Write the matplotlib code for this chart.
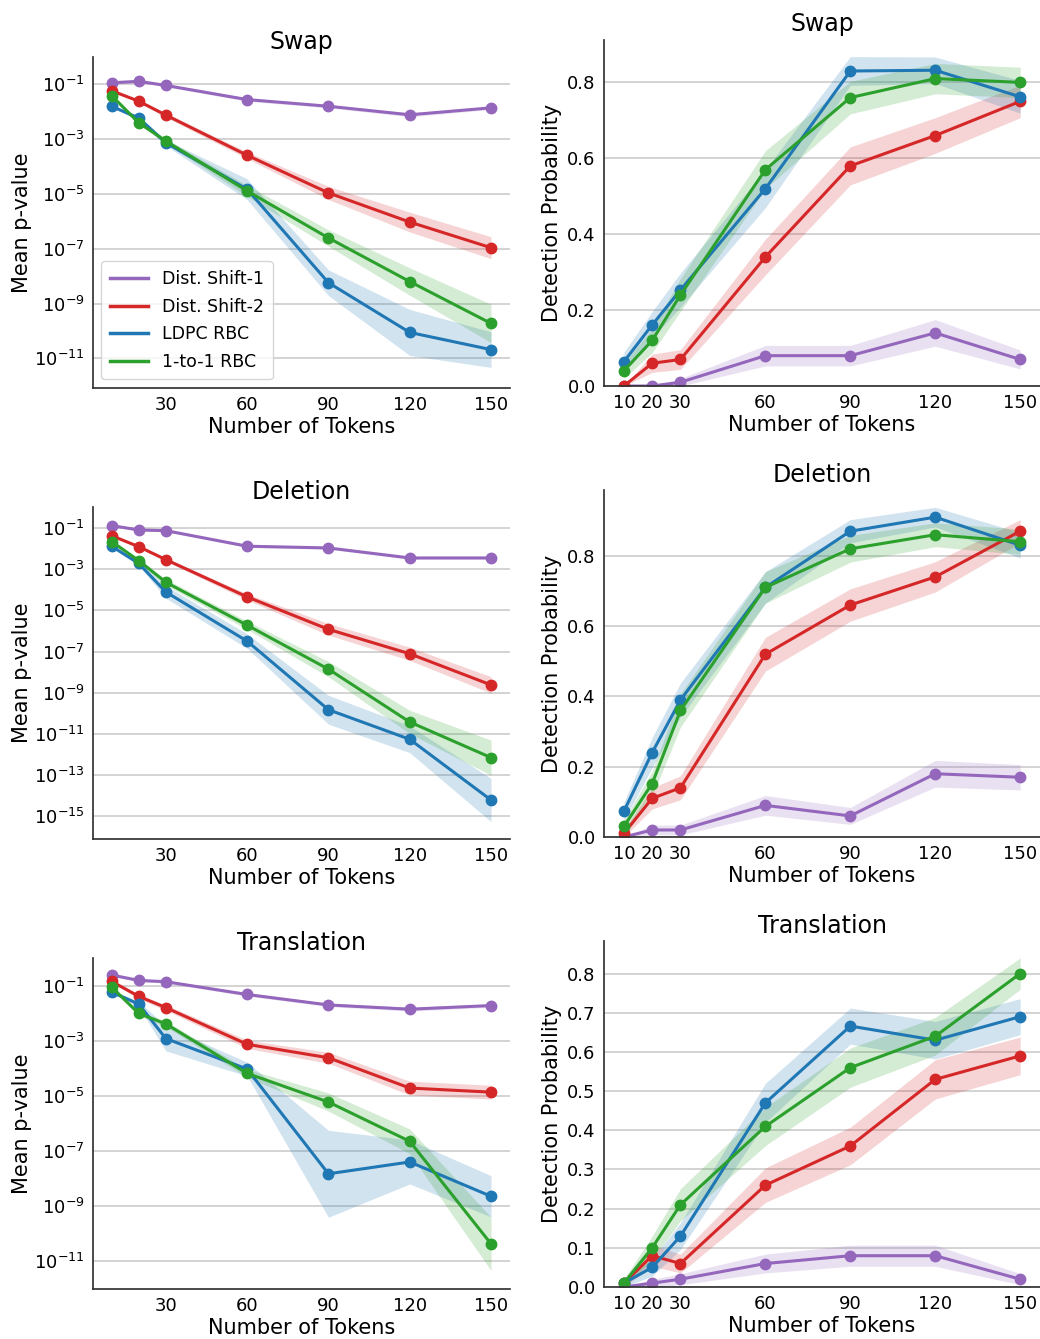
import matplotlib
matplotlib.use("Agg")
import matplotlib.pyplot as plt
import numpy as np
from matplotlib.lines import Line2D
from matplotlib.ticker import NullLocator

tokens = [10, 20, 30, 60, 90, 120, 150]
methods = ["Dist. Shift-1", "Dist. Shift-2", "LDPC RBC", "1-to-1 RBC"]
colors = ["#9467bd", "#d62728", "#1f77b4", "#2ca02c"]

# mean p-value per method, and band half-width in decades
swap_pval = {
    "Dist. Shift-1": [0.115, 0.13, 0.092, 0.028, 0.016, 0.0078, 0.014],
    "Dist. Shift-2": [0.059, 0.0245, 0.0076, 2.6e-4, 1.1e-5, 9.5e-7, 1.1e-7],
    "LDPC RBC": [0.016, 0.0059, 7.4e-4, 1.5e-5, 5.8e-9, 8.9e-11, 2.1e-11],
    "1-to-1 RBC": [0.039, 0.004, 8.6e-4, 1.3e-5, 2.5e-7, 6.4e-9, 1.9e-10],
}
swap_pval_band = {
    "Dist. Shift-1": [0.05, 0.05, 0.05, 0.06, 0.06, 0.07, 0.06],
    "Dist. Shift-2": [0.04, 0.05, 0.08, 0.12, 0.24, 0.36, 0.40],
    "LDPC RBC": [0.05, 0.08, 0.10, 0.38, 0.47, 0.84, 0.65],
    "1-to-1 RBC": [0.05, 0.06, 0.08, 0.20, 0.30, 0.50, 0.70],
}
del_pval = {
    "Dist. Shift-1": [0.13, 0.08, 0.074, 0.013, 0.0107, 0.0035, 0.0035],
    "Dist. Shift-2": [0.042, 0.0124, 0.0029, 4.5e-5, 1.2e-6, 7.8e-8, 2.4e-9],
    "LDPC RBC": [0.013, 0.0019, 7.8e-5, 3.2e-7, 1.5e-10, 5.5e-12, 6.2e-15],
    "1-to-1 RBC": [0.022, 0.0026, 2.3e-4, 1.9e-6, 1.4e-8, 3.8e-11, 7.1e-13],
}
del_pval_band = {
    "Dist. Shift-1": [0.05, 0.05, 0.05, 0.06, 0.06, 0.06, 0.06],
    "Dist. Shift-2": [0.05, 0.06, 0.08, 0.15, 0.28, 0.32, 0.40],
    "LDPC RBC": [0.06, 0.10, 0.30, 0.35, 0.70, 0.65, 1.05],
    "1-to-1 RBC": [0.05, 0.08, 0.15, 0.20, 0.37, 0.57, 0.85],
}
trans_pval = {
    "Dist. Shift-1": [0.245, 0.156, 0.14, 0.048, 0.02, 0.014, 0.019],
    "Dist. Shift-2": [0.144, 0.041, 0.016, 7.4e-4, 2.4e-4, 1.9e-5, 1.35e-5],
    "LDPC RBC": [0.059, 0.0215, 1.2e-3, 9.3e-5, 1.45e-8, 3.9e-8, 2.2e-9],
    "1-to-1 RBC": [0.089, 0.0098, 4.1e-3, 6.5e-5, 5.9e-6, 2.2e-7, 4.1e-11],
}
trans_pval_band = {
    "Dist. Shift-1": [0.05, 0.05, 0.05, 0.06, 0.06, 0.07, 0.06],
    "Dist. Shift-2": [0.05, 0.08, 0.10, 0.15, 0.20, 0.25, 0.25],
    "LDPC RBC": [0.06, 0.10, 0.45, 0.25, 1.58, 0.80, 0.75],
    "1-to-1 RBC": [0.05, 0.08, 0.10, 0.15, 0.33, 0.45, 0.97],
}

# detection probability per method, and band half-width
swap_det = {
    "Dist. Shift-1": [0.0, 0.0, 0.01, 0.08, 0.08, 0.14, 0.07],
    "Dist. Shift-2": [0.0, 0.06, 0.07, 0.34, 0.58, 0.66, 0.75],
    "LDPC RBC": [0.064, 0.161, 0.253, 0.52, 0.83, 0.832, 0.762],
    "1-to-1 RBC": [0.04, 0.12, 0.24, 0.57, 0.76, 0.81, 0.80],
}
swap_det_band = {
    "Dist. Shift-1": [0.0, 0.0, 0.01, 0.027, 0.027, 0.035, 0.025],
    "Dist. Shift-2": [0.0, 0.024, 0.026, 0.047, 0.05, 0.047, 0.043],
    "LDPC RBC": [0.025, 0.035, 0.045, 0.05, 0.038, 0.035, 0.043],
    "1-to-1 RBC": [0.02, 0.032, 0.043, 0.05, 0.043, 0.04, 0.04],
}
del_det = {
    "Dist. Shift-1": [0.0, 0.02, 0.02, 0.09, 0.06, 0.18, 0.17],
    "Dist. Shift-2": [0.01, 0.11, 0.14, 0.52, 0.66, 0.74, 0.87],
    "LDPC RBC": [0.073, 0.24, 0.39, 0.71, 0.87, 0.91, 0.83],
    "1-to-1 RBC": [0.03, 0.152, 0.36, 0.71, 0.82, 0.86, 0.84],
}
del_det_band = {
    "Dist. Shift-1": [0.0, 0.014, 0.014, 0.028, 0.024, 0.038, 0.036],
    "Dist. Shift-2": [0.01, 0.03, 0.034, 0.048, 0.046, 0.043, 0.033],
    "LDPC RBC": [0.026, 0.043, 0.048, 0.045, 0.033, 0.028, 0.036],
    "1-to-1 RBC": [0.017, 0.035, 0.047, 0.045, 0.038, 0.034, 0.036],
}
trans_det = {
    "Dist. Shift-1": [0.0, 0.01, 0.02, 0.06, 0.08, 0.08, 0.02],
    "Dist. Shift-2": [0.01, 0.08, 0.06, 0.26, 0.36, 0.53, 0.59],
    "LDPC RBC": [0.01, 0.05, 0.13, 0.47, 0.666, 0.63, 0.69],
    "1-to-1 RBC": [0.01, 0.10, 0.21, 0.41, 0.56, 0.64, 0.80],
}
trans_det_band = {
    "Dist. Shift-1": [0.0, 0.01, 0.014, 0.024, 0.027, 0.027, 0.014],
    "Dist. Shift-2": [0.01, 0.027, 0.024, 0.044, 0.048, 0.05, 0.048],
    "LDPC RBC": [0.01, 0.022, 0.034, 0.05, 0.046, 0.048, 0.046],
    "1-to-1 RBC": [0.01, 0.03, 0.041, 0.049, 0.05, 0.048, 0.04],
}

titles = ["Swap", "Deletion", "Translation"]
pval_data = [(swap_pval, swap_pval_band), (del_pval, del_pval_band), (trans_pval, trans_pval_band)]
det_data = [(swap_det, swap_det_band), (del_det, del_det_band), (trans_det, trans_det_band)]

# axes rectangles (left col / right col per row)
left_rects = [
    [0.0891, 0.7102, 0.4013, 0.2472],
    [0.0891, 0.3734, 0.4013, 0.2480],
    [0.0891, 0.0373, 0.4013, 0.2472],
]
right_rects = [
    [0.5808, 0.7117, 0.4192, 0.2588],
    [0.5808, 0.3749, 0.4192, 0.2591],
    [0.5808, 0.0388, 0.4192, 0.2584],
]
log_ylims = [(-12.08, 0.0), (-16.1, 0.02), (-12.03, 0.006)]
log_yticks = [
    [1e-1, 1e-3, 1e-5, 1e-7, 1e-9, 1e-11],
    [1e-1, 1e-3, 1e-5, 1e-7, 1e-9, 1e-11, 1e-13, 1e-15],
    [1e-1, 1e-3, 1e-5, 1e-7, 1e-9, 1e-11],
]
det_ytop = [0.913, 0.987, 0.883]
det_yticks = [
    np.arange(0, 0.81, 0.2),
    np.arange(0, 0.81, 0.2),
    np.arange(0, 0.81, 0.1),
]

LW = 2.2
MS = 7.5


def style_axes(ax):
    ax.spines["top"].set_visible(False)
    ax.spines["right"].set_visible(False)
    for s in ("left", "bottom"):
        ax.spines[s].set_color("#333333")
        ax.spines[s].set_linewidth(1.25)
    ax.grid(axis="y", color="#c8c8c8", linewidth=1.1)
    ax.set_axisbelow(True)
    ax.tick_params(length=0, labelsize=13, pad=6)
    ax.set_xlabel("Number of Tokens", fontsize=15, labelpad=2)
    ax.title.set_fontsize(17)


fig = plt.figure(figsize=(10.4, 13.39), dpi=100)

for row in range(3):
    # left: mean p-value on log scale
    ax = fig.add_axes(left_rects[row])
    means, bands = pval_data[row]
    for name, c in zip(methods, colors):
        m = np.array(means[name])
        w = np.array(bands[name])
        ax.fill_between(tokens, m * 10 ** (-w), m * 10 ** w, color=c, alpha=0.2, linewidth=0)
        ax.plot(tokens, m, color=c, linewidth=LW, marker="o", markersize=MS)
    ax.set_yscale("log")
    lo, hi = log_ylims[row]
    ax.set_ylim(10 ** lo, 10 ** hi)
    ax.set_yticks(log_yticks[row])
    ax.yaxis.set_minor_locator(NullLocator())
    ax.set_xticks([30, 60, 90, 120, 150])
    ax.set_ylabel("Mean p-value", fontsize=15, labelpad=1)
    ax.set_title(titles[row])
    style_axes(ax)
    if row == 0:
        handles = [Line2D([], [], color=c, linewidth=2.5) for c in colors]
        ax.legend(handles, methods, loc="lower left", fontsize=12.5, frameon=True,
                  edgecolor="#cccccc", handlelength=2.2, borderpad=0.5, labelspacing=0.55)

    # right: detection probability
    ax = fig.add_axes(right_rects[row])
    means, bands = det_data[row]
    for name, c in zip(methods, colors):
        m = np.array(means[name])
        w = np.array(bands[name])
        ax.fill_between(tokens, m - w, m + w, color=c, alpha=0.2, linewidth=0)
        ax.plot(tokens, m, color=c, linewidth=LW, marker="o", markersize=MS)
    ax.set_ylim(0, det_ytop[row])
    ax.set_yticks(det_yticks[row])
    ax.set_xticks(tokens)
    ax.set_ylabel("Detection Probability", fontsize=15)
    ax.set_title(titles[row])
    style_axes(ax)

fig.savefig("out.png", dpi=100)
